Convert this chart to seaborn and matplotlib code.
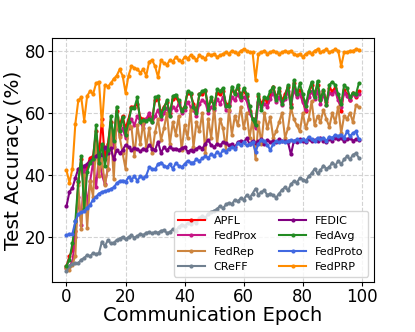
import matplotlib
matplotlib.use("Agg")
import matplotlib.pyplot as plt
import seaborn as sns

epochs = list(range(100))

apfl = [10.5, 13.8, 15.7, 22, 37.6, 45, 33, 43, 45.5, 46,
        54, 46, 58, 45, 50, 57, 52, 60.5, 56, 59,
        55, 58, 62, 62, 63, 58.5, 58, 58, 59, 58,
        64, 64.5, 60, 62, 63.5, 60, 64.5, 65, 63.5, 61,
        62, 66.5, 66, 63, 60.5, 66, 66, 67, 62, 64,
        62.5, 66.5, 66, 67, 63, 62.5, 67.5, 66.5, 68, 66,
        67, 65.5, 60.5, 58, 57, 65.5, 63, 64.5, 63.5, 66,
        68.5, 65, 67, 64, 66, 68.5, 63, 69.5, 66, 67.5,
        64, 60.5, 66.5, 69, 66, 69, 64.5, 67, 63.5, 68,
        67, 68, 65, 60.5, 67.5, 66, 64, 66.5, 65, 67]

fedprox = [10, 10.5, 12, 20, 33, 24, 42, 30, 38, 44,
           36, 46, 40, 37, 42, 53, 49, 56, 53, 55,
           52, 55, 58, 56, 59, 57, 55, 58, 60, 57,
           59, 61, 58, 60, 61.5, 59, 62, 61, 63, 60,
           61, 63.5, 62, 61, 59, 63, 64, 63.5, 60, 62,
           61, 64.5, 63, 65, 61, 60.5, 65, 64, 66, 64,
           65, 64, 60, 58, 55, 63.5, 62, 63, 62, 64.5,
           66.5, 63.5, 65, 62.5, 64.5, 67, 62, 67.5, 65, 66,
           63.5, 61, 65, 67, 64.5, 67, 63, 66, 62.5, 66.5,
           66, 67, 64, 62, 66.5, 65.5, 64, 66, 65.5, 66]

fedrep = [10, 9.5, 11, 14, 36.7, 22.6, 40, 23, 38, 33,
          50, 39.8, 45, 36.7, 42, 54.5, 38.8, 58.6, 52.3, 47,
          42, 56, 55.5, 46, 56, 50, 57, 49, 55, 47,
          53.8, 58, 51.3, 55, 60, 50, 57, 53, 59, 48,
          56, 52, 61, 49, 57, 54, 60, 47, 58, 52,
          62, 50, 58, 55, 48, 61, 53, 59, 56, 62,
          55, 60, 52, 58, 45, 57, 50, 60, 55, 58.6,
          52, 54, 57, 60, 52, 55, 61.7, 58, 56, 54,
          60, 55, 58, 63.8, 56, 59, 57, 61, 58, 55.5,
          60, 57, 62, 53.4, 59, 58, 60, 57, 62.5, 61.8]

creff = [9, 10.6, 11.3, 11.6, 11.6, 12.7, 13.2, 14.2, 13.8, 14.8,
         14.5, 14.8, 18.5, 17, 19, 17.9, 18.2, 19, 19.5, 20,
         19.2, 20, 20.5, 19.8, 20.3, 21, 20.6, 21.4, 21.5, 21.2,
         21.6, 21.4, 22, 22.2, 21.3, 21.6, 22.5, 22, 23.2, 24,
         23.5, 24.5, 24.2, 25, 24.6, 26, 26.8, 26.2, 27.5, 28,
         28.5, 29, 30, 29.2, 30.5, 31, 30.6, 32, 31.5, 32.5,
         32, 33.5, 32.6, 34, 35.6, 33.6, 34.5, 35, 33.5, 34,
         33.4, 32.7, 34, 35.2, 36, 35, 37, 38, 37.5, 39,
         38.5, 38, 39.5, 40.5, 42, 40.5, 41.5, 43, 42, 42.5,
         44, 43, 44.5, 43.5, 45, 46, 45, 46.5, 47, 45.5]

fedic = [29.9, 34.6, 35.8, 39, 42, 42.4, 43, 43.5, 44.5, 45,
         46, 47, 46.5, 49, 47, 48.6, 45, 48, 47, 48,
         49.7, 49, 48, 48.6, 48.3, 47.6, 48.5, 48, 49.7, 48.5,
         48, 50.7, 47, 49, 47.9, 49, 48.3, 48.5, 48, 48.6,
         49, 47.5, 48, 47.7, 48.5, 49, 48.5, 50, 51.3, 49.5,
         49, 50, 49.5, 50.5, 50.2, 49.5, 50, 49, 50.5, 51,
         50.5, 51.8, 50, 51, 50.3, 50.8, 51.5, 50, 51.3, 50.5,
         51, 50.5, 51.5, 50.8, 51, 50.5, 46.6, 51, 50.5, 51.5,
         51, 50.5, 51.5, 50.8, 51.3, 51, 52, 51, 50.5, 51.5,
         51, 52, 51.5, 52, 50.8, 51.5, 52, 51, 51.5, 51.3]

fedavg = [10.7, 12.7, 17.9, 25, 38, 46, 29, 41, 44, 45,
          56, 44, 50, 43, 48, 59, 51, 62, 54, 58.6,
          53, 57, 61.7, 61.7, 65, 57, 57.6, 57.5, 58, 57,
          65, 65.4, 59, 61.6, 64, 59, 65.4, 65.9, 64, 60.6,
          62, 67, 66.5, 62, 60, 66, 67, 67.5, 61, 65,
          61.7, 67.6, 67, 68, 62.3, 62.3, 68.5, 66, 69, 65,
          68, 66, 62.3, 58, 56, 66, 61, 65, 64.7, 67,
          68.5, 64, 68, 63, 65, 69, 62, 70.6, 66, 69.5,
          66, 62.3, 67, 70, 65, 70.3, 64, 67.5, 62.5, 69,
          70, 69, 66, 62.7, 69, 68, 65, 66.5, 66, 69.5]

fedproto = [20.5, 21, 21, 25, 27.3, 28, 28.3, 29.5, 30.4, 32,
            33, 34, 34.5, 34.8, 35, 35.5, 36, 37.3, 38, 38.2,
            37.8, 39.3, 38.5, 39.5, 38.2, 39.5, 39, 39.8, 42.4, 42,
            41.8, 43.5, 44, 43, 42.5, 43.5, 42, 43.8, 43, 42.5,
            43.5, 44.5, 44, 44, 45, 44.5, 45.3, 46, 45.5, 46.7,
            46, 47.5, 46.5, 48, 47.5, 48.5, 49, 48.5, 50.2, 49.5,
            50.5, 49.5, 50, 50.5, 47.5, 50, 51.4, 51, 49.7, 48,
            50, 50.8, 50.5, 51, 50.5, 51, 51.3, 50.8, 51.5, 51,
            51.5, 51, 52.3, 51.5, 50.8, 52, 51.5, 52, 51, 52.3,
            52, 52.9, 52.5, 53, 52, 54, 52.5, 53.5, 54, 51.5]

fedprp = [41.5, 37.5, 42, 56.5, 64, 65, 57.5, 65.5, 67, 66,
          69.5, 70, 56, 69, 68.5, 69.5, 71, 72, 74, 72,
          66.5, 72, 75, 74.5, 74, 73, 74, 72, 76.5, 77,
          75, 71.5, 77, 76, 75.5, 77, 76.5, 78, 77, 76.5,
          78, 77.5, 78.5, 78, 77, 78.5, 78, 77.5, 79, 78.5,
          79, 78, 78.5, 79, 79.5, 79, 80, 79.5, 79, 80,
          80.5, 80, 79.5, 79.5, 70.7, 79, 79.5, 80, 79, 79.5,
          80, 79.5, 79, 79.5, 80, 79.5, 80, 79, 78.5, 79,
          78, 79, 79.5, 79, 80, 80.5, 79.5, 80, 80.5, 79.5,
          80, 80.5, 80, 75, 79.5, 79.5, 80, 80, 80.5, 80.3]

series = [("APFL", apfl, "red"),
          ("FedProx", fedprox, "mediumvioletred"),
          ("FedRep", fedrep, "peru"),
          ("CReFF", creff, "slategray"),
          ("FEDIC", fedic, "purple"),
          ("FedAvg", fedavg, "forestgreen"),
          ("FedProto", fedproto, "royalblue"),
          ("FedPRP", fedprp, "darkorange")]

fig, ax = plt.subplots(figsize=(4.15, 3.32), dpi=100)
fig.subplots_adjust(left=0.125, right=0.9, top=0.885, bottom=0.15)

for name, vals, col in series:
    sns.lineplot(x=epochs, y=vals, ax=ax, color=col, label=name,
                 marker="o", markersize=3, linewidth=1.5,
                 markeredgecolor=col, markeredgewidth=0)

ax.grid(True, linestyle="--", color="lightgray", linewidth=0.8)
ax.set_xticks([0, 20, 40, 60, 80, 100])
ax.set_yticks([20, 40, 60, 80])
ax.tick_params(labelsize=12, length=3, pad=1.5)
ax.set_xlabel("Communication Epoch", fontsize=14, labelpad=0)
ax.set_ylabel("Test Accuracy (%)", fontsize=14.5, labelpad=1)
ax.legend(loc="lower right", ncol=2, fontsize=8, handlelength=2.4)

plt.savefig("out.png", dpi=100)
